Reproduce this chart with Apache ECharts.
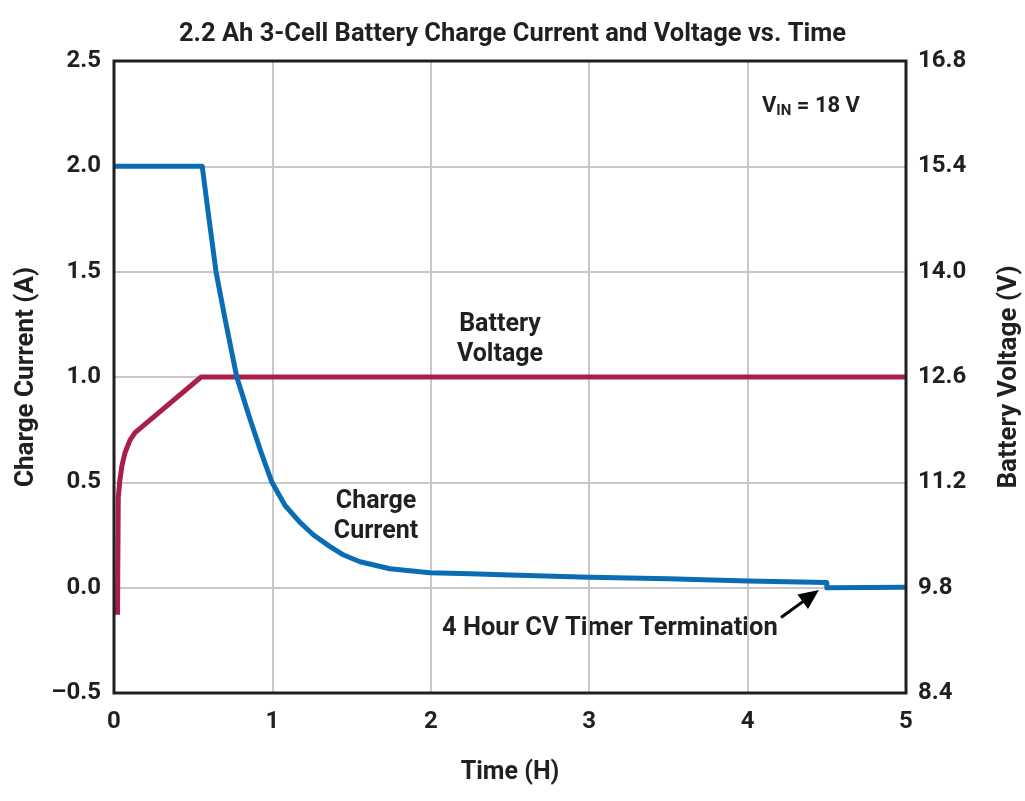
<!DOCTYPE html>
<html>
<head>
<meta charset="utf-8">
<script src="https://cdn.jsdelivr.net/npm/echarts@6/dist/echarts.min.js"></script>
<style>
html,body{margin:0;padding:0;background:#fff;}
#chart{width:1025px;height:801px;}
</style>
</head>
<body>
<div id="chart"></div>
<script>
// ---- data ----
var titleText = '2.2 Ah 3-Cell Battery Charge Current and Voltage vs. Time';
var timeTicks = [0, 1, 2, 3, 4, 5];
var currentTicks = [-0.5, 0, 0.5, 1.0, 1.5, 2.0, 2.5];
var voltageTicks = [8.4, 9.8, 11.2, 12.6, 14.0, 15.4, 16.8];

var timeCurrent = [0, 0.557, 0.60, 0.644, 0.70, 0.775, 0.859, 0.93, 0.997, 1.08, 1.174, 1.26, 1.364, 1.45, 1.553, 1.742, 1.995, 2.25, 2.5, 3.0, 3.5, 4.0, 4.5, 4.5, 5.0];
var chargeCurrent = [2.0, 2.0, 1.75, 1.5, 1.28, 1.0, 0.8, 0.64, 0.5, 0.39, 0.31, 0.25, 0.195, 0.155, 0.123, 0.09, 0.071, 0.066, 0.06, 0.05, 0.042, 0.032, 0.024, 0.0, 0.002];

var timeVoltage = [0.022, 0.027, 0.037, 0.05, 0.069, 0.101, 0.133, 0.55, 5.0];
var batteryVoltage = [9.44, 11.0, 11.23, 11.42, 11.59, 11.76, 11.86, 12.6, 12.6];

var arrowTail = [4.211, -0.142];
var arrowHead = [4.399, -0.039];

// ---- chart ----
var TXT = '#231f20';
var FONT = 'Roboto, "Noto Sans", sans-serif';
function pairs(xs, ys){ return xs.map(function(x,i){ return [x, ys[i]]; }); }
function fmtA(v){ var s = v.toFixed(1); return v < 0 ? '\u2013' + s.slice(1) : s; }

var chart = echarts.init(document.getElementById('chart'));
chart.setOption({
  animation: false,
  backgroundColor: '#ffffff',
  title: {
    text: titleText, left: 'center', top: 17,
    textStyle: {fontFamily: FONT, fontWeight: 'bold', fontSize: 25.5, color: TXT}
  },
  grid: {left: 114, right: 119, top: 61, bottom: 108, containLabel: false, outerBoundsMode: 'none', show: true, borderColor: TXT, borderWidth: 3, backgroundColor: 'transparent', z: 5},
  xAxis: {
    type: 'value', min: timeTicks[0], max: timeTicks[timeTicks.length-1], interval: 1,
    name: 'Time (H)', nameLocation: 'middle', nameGap: 67,
    nameTextStyle: {fontFamily: FONT, fontWeight: 'bold', fontSize: 25, color: TXT},
    axisLine: {show: false}, axisTick: {show: false},
    axisLabel: {fontFamily: FONT, fontWeight: 'bold', fontSize: 24, color: TXT, margin: 17},
    splitLine: {show: true, lineStyle: {color: '#c8c8c8', width: 2}}
  },
  yAxis: [{
    type: 'value', min: currentTicks[0], max: currentTicks[currentTicks.length-1], interval: 0.5,
    name: 'Charge Current (A)', nameLocation: 'middle', nameGap: 75,
    nameTextStyle: {fontFamily: FONT, fontWeight: 'bold', fontSize: 26, color: TXT},
    axisLine: {show: false}, axisTick: {show: false},
    axisLabel: {fontFamily: FONT, fontWeight: 'bold', fontSize: 24, color: TXT, margin: 13, formatter: fmtA},
    splitLine: {show: true, lineStyle: {color: '#c8c8c8', width: 2}}
  }, {
    type: 'value', position: 'right', min: voltageTicks[0], max: voltageTicks[voltageTicks.length-1], interval: 1.4,
    name: 'Battery Voltage (V)', nameLocation: 'middle', nameGap: 90,
    nameTextStyle: {fontFamily: FONT, fontWeight: 'bold', fontSize: 26, color: TXT},
    axisLine: {show: false}, axisTick: {show: false},
    axisLabel: {fontFamily: FONT, fontWeight: 'bold', fontSize: 24, color: TXT, margin: 12, formatter: function(v){ return v.toFixed(1); }},
    splitLine: {show: false}
  }],
  series: [{
    name: 'Charge Current', type: 'line', yAxisIndex: 0, showSymbol: false, symbol: 'none',
    data: pairs(timeCurrent, chargeCurrent), smooth: false,
    lineStyle: {color: '#0a6db4', width: 5, join: 'round'}, z: 3,
    markLine: {
      silent: true, symbol: ['none', 'triangle'], symbolSize: [18, 20],
      lineStyle: {color: '#000', width: 3, type: 'solid'}, itemStyle: {color: '#000'}, label: {show: false},
      data: [[{coord: arrowTail}, {coord: arrowHead}]]
    }
  }, {
    name: 'Battery Voltage', type: 'line', yAxisIndex: 1, showSymbol: false, symbol: 'none',
    data: pairs(timeVoltage, batteryVoltage), smooth: false,
    lineStyle: {color: '#a81f48', width: 5, join: 'round'}, z: 2
  }],
  graphic: [
    {type: 'text', x: 500, y: 310, style: {text: 'Battery\nVoltage', fontFamily: FONT, fontWeight: 'bold', fontSize: 25, fill: TXT, textAlign: 'center', lineHeight: 30}},
    {type: 'text', x: 376, y: 487, style: {text: 'Charge\nCurrent', fontFamily: FONT, fontWeight: 'bold', fontSize: 25, fill: TXT, textAlign: 'center', lineHeight: 30}},
    {type: 'text', x: 442, y: 616, style: {text: '4 Hour CV Timer Termination', fontFamily: FONT, fontWeight: 'bold', fontSize: 25.5, fill: TXT}},
    {type: 'text', x: 762, y: 93, style: {rich: {b: {fontFamily: FONT, fontWeight: 'bold', fontSize: 22, fill: TXT}, s: {fontFamily: FONT, fontWeight: 'bold', fontSize: 15, fill: TXT, verticalAlign: 'bottom', padding: [11,0,0,0]}}, text: '{b|V}{s|IN}{b| = 18 V}'}}
  ]
});
</script>
</body>
</html>
